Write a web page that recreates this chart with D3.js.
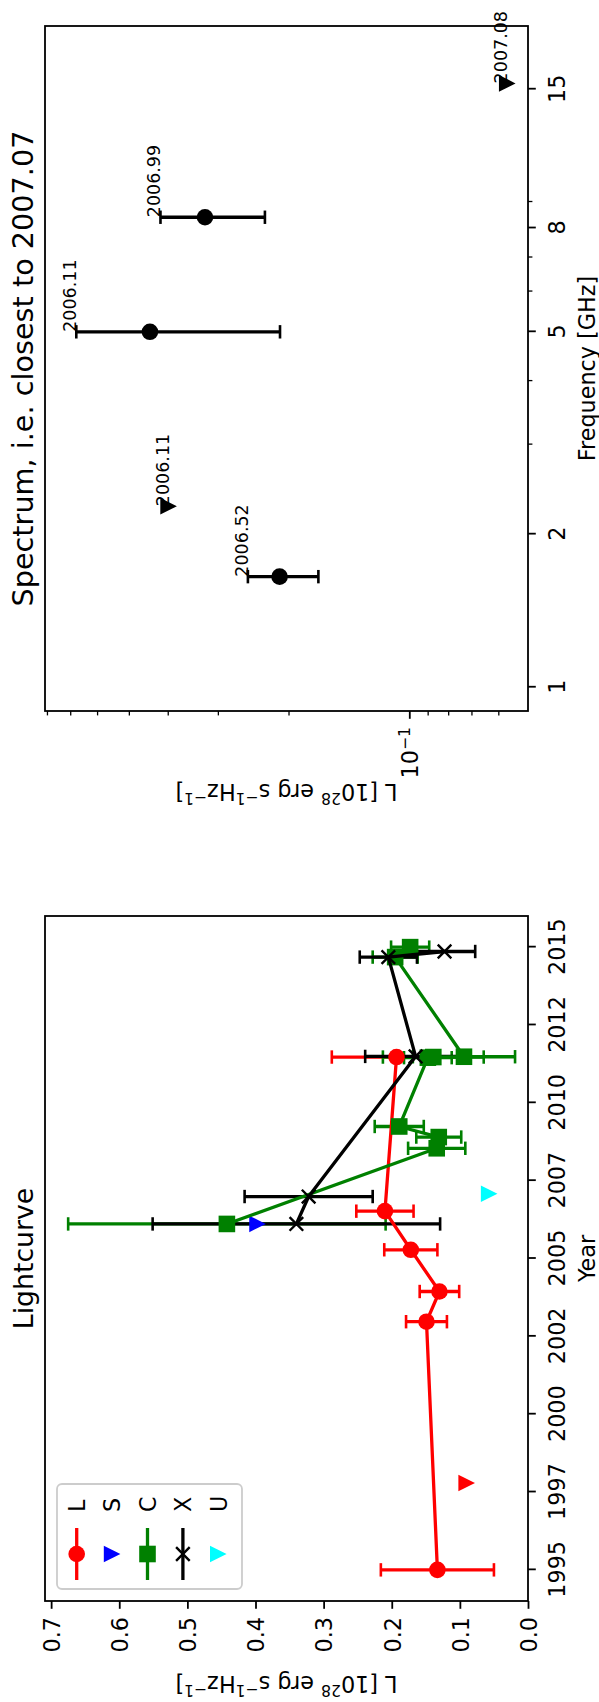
<!DOCTYPE html>
<html>
<head>
<meta charset="utf-8">
<script src="https://cdn.jsdelivr.net/npm/d3@7/dist/d3.min.js"></script>
<style>
html,body{margin:0;padding:0;background:#fff;}
svg{display:block;}
</style>
</head>
<body>
<script>
// ---------------- Lightcurve data ----------------
const lYears  = [1995.00, 2002.97, 2003.94, 2005.28, 2006.52, 2011.47];
const lValues = [0.133, 0.149, 0.130, 0.172, 0.210, 0.193];
const lErrors = [0.083, 0.030, 0.029, 0.039, 0.042, 0.095];
const lLimitYears  = [1997.79];
const lLimitValues = [0.090];
const sYears  = [2006.11];
const sValues = [0.397];
const cYears  = [2006.11, 2008.54, 2008.90, 2009.24, 2011.45, 2011.47, 2011.48, 2014.68, 2015.00];
const cValues = [0.442, 0.134, 0.131, 0.189, 0.147, 0.139, 0.094, 0.195, 0.173];
const cErrors = [0.233, 0.042, 0.033, 0.036, 0.035, 0.074, 0.075, 0.033, 0.028];
const xYears  = [2006.11, 2006.99, 2011.49, 2014.68, 2014.86];
const xValues = [0.340, 0.322, 0.165, 0.205, 0.1225];
const xErrors = [0.211, 0.094, 0.074, 0.042, 0.045];
const uYears  = [2007.08];
const uValues = [0.057];
const yearTicks      = [1995, 1997.5, 2000, 2002.5, 2005, 2007.5, 2010, 2012.5, 2015];
const yearTickLabels = ["1995","1997","2000","2002","2005","2007","2010","2012","2015"];
const lumTicks       = [0, 0.1, 0.2, 0.3, 0.4, 0.5, 0.6, 0.7];
const lumTickLabels  = ["0.0","0.1","0.2","0.3","0.4","0.5","0.6","0.7"];
const legendLabels   = ["L","S","C","X","U"];
const seriesColors   = ["#ff0000","#0000ff","#008000","#000000","#00ffff"];
const seriesMarkers  = ["o","v","s","x","v"];
const seriesHasLine  = [true,false,true,true,false];

// ---------------- Spectrum data ----------------
const specFreqs   = [1.65, 2.27, 5.0, 8.4, 15.4];
const specValues  = [0.2105, 0.398, 0.443, 0.323, 0.057];
const specErrors  = [0.042, 0, 0.233, 0.094, 0];
const specIsLimit = [false, true, false, false, true];
const specDates   = ["2006.52","2006.11","2006.11","2006.99","2007.08"];
const freqTicks      = [1, 2, 5, 8, 15];
const freqTickLabels = ["1","2","5","8","15"];
const freqMinorTicks = [3, 4, 6, 7, 9];
const specLumTicks     = [0.1];
const specLumTickBase  = ["10"];
const specLumTickExp   = ["\u22121"];
const specLumMinorTicks = [0.06,0.07,0.08,0.09,0.2,0.3,0.4,0.5,0.6,0.7,0.8];

// ---------------- Setup ----------------
const FONT = "'DejaVu Sans', sans-serif";
const FS = 22.3, TITLE_FS = 26.7, SPEC_TITLE_FS = 28.7, ANN_FS = 17.5;
const W = 1702, H = 599;  // un-rotated figure size
const LW = 3.3, CAP_HALF = 6.7, CAP_W = 2.6, SPINE_W = 1.8, TICK_LEN = 7.8, MINOR_LEN = 4.4;

const svg = d3.select("body").append("svg").attr("width", H).attr("height", W);
const root = svg.append("g").attr("transform", `translate(0,${W}) rotate(-90)`);
root.append("rect").attr("width", W).attr("height", H).attr("fill", "#fff");

function drawMarker(g, type, x, y, color) {
  const s = 8.3;
  if (type === "o") g.append("circle").attr("cx", x).attr("cy", y).attr("r", s).attr("fill", color);
  else if (type === "s") g.append("rect").attr("x", x - s).attr("y", y - s).attr("width", 2 * s).attr("height", 2 * s).attr("fill", color);
  else if (type === "v") g.append("path").attr("d", `M${x - s},${y - s}L${x + s},${y - s}L${x},${y + s}Z`).attr("fill", color);
  else if (type === "x") {
    const a = 6.8;
    g.append("path").attr("d", `M${x - a},${y - a}L${x + a},${y + a}M${x - a},${y + a}L${x + a},${y - a}`)
      .attr("stroke", color).attr("stroke-width", 2.4).attr("fill", "none");
  }
}

function drawErrorBars(g, xs, ys, es, sx, sy, color) {
  const data = d3.zip(xs, ys, es).filter(d => d[2] > 0);
  const eg = g.append("g").attr("stroke", color).attr("fill", "none");
  eg.selectAll("line.bar").data(data).join("line").attr("class", "bar")
    .attr("x1", d => sx(d[0])).attr("x2", d => sx(d[0]))
    .attr("y1", d => sy(d[1] - d[2])).attr("y2", d => sy(d[1] + d[2]))
    .attr("stroke-width", LW);
  const caps = [];
  data.forEach(d => { caps.push([d[0], d[1] - d[2]]); caps.push([d[0], d[1] + d[2]]); });
  eg.selectAll("line.cap").data(caps).join("line").attr("class", "cap")
    .attr("x1", d => sx(d[0]) - CAP_HALF).attr("x2", d => sx(d[0]) + CAP_HALF)
    .attr("y1", d => sy(d[1])).attr("y2", d => sy(d[1]))
    .attr("stroke-width", CAP_W);
}

function styleAxis(g) {
  g.select(".domain").remove();
  g.selectAll(".tick line").attr("stroke", "#000").attr("stroke-width", SPINE_W);
  g.selectAll(".tick text").attr("fill", "#000").style("font-size", FS + "px").style("font-family", FONT);
}

// ================= Lightcurve panel =================
const lc = {x0: 101, x1: 786, y0: 45, y1: 528};
const xYear = d3.scaleLinear().domain([1994, 2016]).range([lc.x0, lc.x1]);
const yLum = d3.scaleLinear().domain([0, 0.709]).range([lc.y1, lc.y0]);
const lcG = root.append("g");

// error bars (drawn beneath the data lines)
drawErrorBars(lcG, lYears, lValues, lErrors, xYear, yLum, seriesColors[0]);
lLimitYears.forEach((yr, i) => drawMarker(lcG, "v", xYear(yr), yLum(lLimitValues[i]), seriesColors[0]));
drawErrorBars(lcG, cYears, cValues, cErrors, xYear, yLum, seriesColors[2]);
drawErrorBars(lcG, xYears, xValues, xErrors, xYear, yLum, seriesColors[3]);

const lineGen = d3.line().x(d => xYear(d[0])).y(d => yLum(d[1]));
function drawSeries(years, vals, color, marker) {
  const pts = d3.zip(years, vals);
  lcG.append("path").datum(pts).attr("d", lineGen).attr("fill", "none")
    .attr("stroke", color).attr("stroke-width", LW).attr("stroke-linejoin", "round");
  pts.forEach(p => drawMarker(lcG, marker, xYear(p[0]), yLum(p[1]), color));
}
drawSeries(lYears, lValues, seriesColors[0], "o");
sYears.forEach((yr, i) => drawMarker(lcG, "v", xYear(yr), yLum(sValues[i]), seriesColors[1]));
drawSeries(cYears, cValues, seriesColors[2], "s");
drawSeries(xYears, xValues, seriesColors[3], "x");
uYears.forEach((yr, i) => drawMarker(lcG, "v", xYear(yr), yLum(uValues[i]), seriesColors[4]));

// frame
lcG.append("rect").attr("x", lc.x0).attr("y", lc.y0).attr("width", lc.x1 - lc.x0).attr("height", lc.y1 - lc.y0)
  .attr("fill", "none").attr("stroke", "#000").attr("stroke-width", SPINE_W);

// axes
const lcX = lcG.append("g").attr("transform", `translate(0,${lc.y1})`)
  .call(d3.axisBottom(xYear).tickValues(yearTicks).tickFormat((d, i) => yearTickLabels[i]).tickSizeInner(TICK_LEN).tickSizeOuter(0));
styleAxis(lcX);
lcX.selectAll(".tick text").attr("y", 37).attr("dy", null);

const lcY = lcG.append("g").attr("transform", `translate(${lc.x0},0)`)
  .call(d3.axisLeft(yLum).tickValues(lumTicks).tickFormat((d, i) => lumTickLabels[i]).tickSizeInner(TICK_LEN).tickSizeOuter(0));
styleAxis(lcY);
lcY.selectAll(".tick text").attr("x", -16).attr("dy", "8.3px");

// title and labels
lcG.append("text").attr("x", (lc.x0 + lc.x1) / 2).attr("y", 33).attr("text-anchor", "middle")
  .style("font-family", FONT).style("font-size", TITLE_FS + "px").text("Lightcurve");
lcG.append("text").attr("x", (lc.x0 + lc.x1) / 2).attr("y", 595).attr("text-anchor", "middle")
  .style("font-family", FONT).style("font-size", FS + "px").text("Year");

function yLabel(g, x, y) {
  const t = g.append("text").attr("transform", `translate(${x},${y}) rotate(-90)`).attr("text-anchor", "middle")
    .style("font-family", FONT).style("font-size", FS + "px");
  const sup = FS * 0.7, up = 8.5;
  t.append("tspan").text("L [10");
  t.append("tspan").attr("dy", -up).style("font-size", sup + "px").text("28");
  t.append("tspan").attr("dy", up).text(" erg s");
  t.append("tspan").attr("dy", -up).style("font-size", sup + "px").text("\u22121");
  t.append("tspan").attr("dy", up).text("Hz");
  t.append("tspan").attr("dy", -up).style("font-size", sup + "px").text("\u22121");
  t.append("tspan").attr("dy", up).text("]");
}
yLabel(lcG, 26, (lc.y0 + lc.y1) / 2);

// legend
const leg = lcG.append("g");
leg.append("rect").attr("x", 113).attr("y", 57).attr("width", 105).attr("height", 185).attr("rx", 5)
  .attr("fill", "#fff").attr("fill-opacity", 0.8).attr("stroke", "#cccccc").attr("stroke-width", 1.8);
legendLabels.forEach((lab, i) => {
  const ry = 76.7 + i * 35.4;
  if (seriesHasLine[i]) leg.append("line").attr("x1", 122).attr("x2", 174).attr("y1", ry).attr("y2", ry)
    .attr("stroke", seriesColors[i]).attr("stroke-width", LW);
  drawMarker(leg, seriesMarkers[i], 148, ry, seriesColors[i]);
  leg.append("text").attr("x", 190).attr("y", ry + 8.3).style("font-family", FONT).style("font-size", FS + "px").text(lab);
});

// ================= Spectrum panel =================
const sp = {x0: 991, x1: 1676, y0: 45, y1: 528};
const xFreq = d3.scaleLog().domain([0.898, 19.97]).range([sp.x0, sp.x1]);
const ySLum = d3.scaleLog().domain([0.0506, 0.809]).range([sp.y1, sp.y0]);
const spG = root.append("g");

drawErrorBars(spG, specFreqs, specValues, specErrors, xFreq, ySLum, "#000");
specFreqs.forEach((f, i) => drawMarker(spG, specIsLimit[i] ? "v" : "o", xFreq(f), ySLum(specValues[i]), "#000"));

spG.append("rect").attr("x", sp.x0).attr("y", sp.y0).attr("width", sp.x1 - sp.x0).attr("height", sp.y1 - sp.y0)
  .attr("fill", "none").attr("stroke", "#000").attr("stroke-width", SPINE_W);

// annotations
spG.selectAll("text.ann").data(d3.range(specFreqs.length)).join("text").attr("class", "ann")
  .attr("x", i => xFreq(specFreqs[i]))
  .attr("y", i => ySLum(specValues[i] + specErrors[i]))
  .style("font-family", FONT).style("font-size", ANN_FS + "px")
  .text(i => specDates[i]);

const spX = spG.append("g").attr("transform", `translate(0,${sp.y1})`)
  .call(d3.axisBottom(xFreq).tickValues(freqTicks).tickFormat((d, i) => freqTickLabels[i]).tickSizeInner(TICK_LEN).tickSizeOuter(0));
styleAxis(spX);
spX.selectAll(".tick text").attr("y", 37).attr("dy", null);
const spXm = spG.append("g").attr("transform", `translate(0,${sp.y1})`)
  .call(d3.axisBottom(xFreq).tickValues(freqMinorTicks).tickFormat("").tickSizeInner(MINOR_LEN).tickSizeOuter(0));
spXm.select(".domain").remove();
spXm.selectAll(".tick line").attr("stroke", "#000").attr("stroke-width", 1.3);

const spY = spG.append("g").attr("transform", `translate(${sp.x0},0)`)
  .call(d3.axisLeft(ySLum).tickValues(specLumTicks).tickFormat("").tickSizeInner(TICK_LEN).tickSizeOuter(0));
styleAxis(spY);
spY.selectAll(".tick text").attr("x", -16).attr("dy", "8.3px").each(function (d, i) {
  const t = d3.select(this);
  t.append("tspan").text(specLumTickBase[i]);
  t.append("tspan").attr("dy", -8.5).style("font-size", (FS * 0.7) + "px").text(specLumTickExp[i]);
});
const spYm = spG.append("g").attr("transform", `translate(${sp.x0},0)`)
  .call(d3.axisLeft(ySLum).tickValues(specLumMinorTicks).tickFormat("").tickSizeInner(MINOR_LEN).tickSizeOuter(0));
spYm.select(".domain").remove();
spYm.selectAll(".tick line").attr("stroke", "#000").attr("stroke-width", 1.3);

spG.append("text").attr("x", (sp.x0 + sp.x1) / 2).attr("y", 33).attr("text-anchor", "middle")
  .style("font-family", FONT).style("font-size", SPEC_TITLE_FS + "px").text("Spectrum, i.e. closest to 2007.07");
spG.append("text").attr("x", (sp.x0 + sp.x1) / 2).attr("y", 595).attr("text-anchor", "middle")
  .style("font-family", FONT).style("font-size", FS + "px").text("Frequency [GHz]");
yLabel(spG, 918, (sp.y0 + sp.y1) / 2);
</script>
</body>
</html>
